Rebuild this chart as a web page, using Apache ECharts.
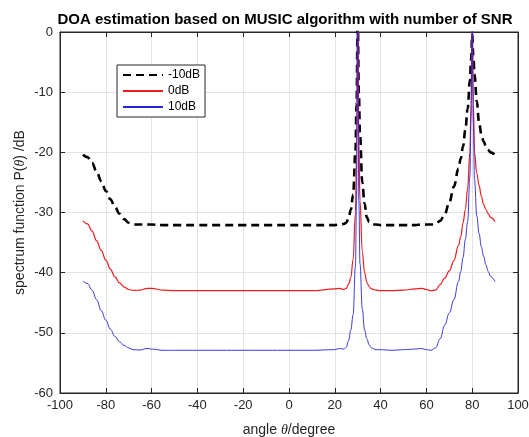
<!DOCTYPE html>
<html>
<head>
<meta charset="utf-8">
<script src="https://cdn.jsdelivr.net/npm/echarts@6/dist/echarts.min.js"></script>
<style>html,body{margin:0;padding:0;background:#fff}#c{width:529px;height:437px}</style>
</head>
<body>
<div id="c"></div>
<script>
var angles = [-90,-88,-86,-84,-82,-80,-78,-76,-74,-72,-70,-68,-65,-62,-60,-55,-50,-40,-30,-20,-10,0,10,20,22,24,25,26,27,28,29,29.5,30,30.5,31,32,33,34,35,36,38,40,45,50,55,58,60,62,64,66,68,70,72,74,75,76,77,78,79,79.5,80,80.5,81,82,83,84,85,86,87,88,90];
var snrM10 = [-20.4,-20.8,-21.8,-23.2,-24.8,-26.4,-27.8,-29.1,-30.2,-31.1,-31.7,-32,-32,-32,-32,-32.1,-32.1,-32.1,-32.1,-32.1,-32.1,-32.1,-32.1,-32.1,-32,-31.9,-31.7,-31,-29.5,-27,-20,-12,3,-10,-17,-25,-28.5,-30.8,-31.6,-32,-32,-32.1,-32.1,-32.1,-32.1,-32,-32,-32,-31.9,-31.4,-30.3,-28.3,-25.7,-22.7,-21,-19,-16.3,-12.8,-8,-4.5,-0.5,-4,-7,-11.5,-15,-17,-18.2,-19,-19.6,-20,-20.4];
var snr0 = [-31.4,-31.9,-33.1,-34.7,-36.3,-37.9,-39.4,-40.7,-41.7,-42.4,-42.8,-42.95,-42.9,-42.6,-42.6,-42.9,-43,-43,-43,-43,-43,-43,-43,-42.7,-42.6,-42.8,-42.6,-41.9,-40.8,-37.8,-30,-20,5,-18,-28,-36.5,-40,-41.6,-42.3,-42.7,-42.9,-43,-43,-42.9,-42.7,-42.6,-42.8,-43,-42.9,-42,-40.9,-39.7,-38,-35.5,-34,-31.7,-29.5,-26,-20,-12,3,-12,-20,-23.5,-25.5,-27.3,-28.7,-29.5,-30.2,-30.8,-31.5];
var snr10 = [-41.4,-41.8,-42.9,-44.5,-46.3,-47.9,-49.4,-50.6,-51.5,-52.1,-52.5,-52.8,-52.85,-52.6,-52.7,-52.9,-52.9,-52.9,-52.9,-52.9,-52.9,-52.9,-52.9,-52.8,-52.6,-52.7,-52.4,-51.3,-49.5,-47,-39,-28,5,-28,-38.5,-46,-49.5,-51,-52,-52.5,-52.8,-52.8,-52.9,-52.8,-52.7,-52.6,-52.8,-52.9,-52.5,-51,-48.7,-46.7,-44.5,-41.5,-39.8,-37.5,-34.5,-31.5,-24,-14,3,-15,-24.5,-30.5,-33.5,-35.7,-37.3,-38.7,-39.8,-40.6,-41.5];
var seriesNames = ['-10dB','0dB','10dB'];
var xTicks = {min:-100, max:100, step:20};
var yTicks = {min:-60, max:0, step:10};

function pairs(ys){ return angles.map(function(a,i){ return [a, ys[i]]; }); }
var font = 'Liberation Sans, Arial, sans-serif';
var dark = '#262626';
var clear = 'rgba(0,0,0,0)';
var chart = echarts.init(document.getElementById('c'));
chart.setOption({
  animation:false,
  backgroundColor:'#fff',
  title:{text:'DOA estimation based on MUSIC algorithm with number of SNR', left:280, top:7, textAlign:'center',
    textStyle:{fontFamily:font, fontSize:15, fontWeight:'bold', color:'#000'}},
  grid:{left:60, right:11, top:32, bottom:44, outerBoundsMode:'none', containLabel:false, show:true, borderColor:dark, borderWidth:1, backgroundColor:'transparent'},
  legend:{orient:'vertical', left:117, top:65, padding:[4,5,4,5], itemGap:4, itemWidth:40, itemHeight:14,
    backgroundColor:'#fff', borderColor:dark, borderWidth:1, borderRadius:0,
    textStyle:{fontFamily:font, fontSize:12, color:'#000'}, data:seriesNames},
  xAxis:[{type:'value', min:xTicks.min, max:xTicks.max, interval:xTicks.step,
    name:'angle {i|θ}/degree', nameLocation:'middle', nameGap:30,
    nameTextStyle:{fontFamily:font, fontSize:14, color:dark, rich:{i:{fontFamily:'Liberation Serif, serif', fontStyle:'italic', fontSize:14, color:dark}}},
    axisLine:{onZero:false, lineStyle:{color:dark}}, axisTick:{inside:true, length:5, lineStyle:{color:dark}},
    axisLabel:{fontFamily:font, fontSize:13, color:dark, margin:6},
    splitLine:{show:true, lineStyle:{color:'#e3e3e3', width:1}}},
   {type:'value', position:'top', min:xTicks.min, max:xTicks.max, interval:xTicks.step,
    axisLine:{show:true, onZero:false, lineStyle:{color:dark}}, axisTick:{inside:true, length:5, lineStyle:{color:dark}},
    axisLabel:{show:false}, splitLine:{show:false}}],
  yAxis:[{type:'value', min:yTicks.min, max:yTicks.max, interval:yTicks.step,
    name:'spectrum function P({i|θ}) /dB', nameLocation:'middle', nameGap:33, nameRotate:90, nameMoveOverlap:false,
    nameTextStyle:{fontFamily:font, fontSize:14, color:dark, rich:{i:{fontFamily:'Liberation Serif, serif', fontStyle:'italic', fontSize:14, color:dark}}},
    axisLine:{show:true, onZero:false, lineStyle:{color:dark}}, axisTick:{show:true, inside:true, length:5, lineStyle:{color:dark}},
    axisLabel:{fontFamily:font, fontSize:13, color:dark, margin:7},
    splitLine:{show:true, lineStyle:{color:'#e3e3e3', width:1}}},
   {type:'value', position:'right', min:yTicks.min, max:yTicks.max, interval:yTicks.step,
    axisLine:{show:true, onZero:false, lineStyle:{color:dark}}, axisTick:{show:true, inside:true, length:5, lineStyle:{color:dark}},
    axisLabel:{show:false}, splitLine:{show:false}}],
  series:[
    {name:seriesNames[0], type:'line', data:pairs(snrM10), showSymbol:false, symbol:'none', smooth:0.4, smoothMonotone:'x', clip:true,
      lineStyle:{color:'#000', width:2.6, type:[8,5]}, itemStyle:{color:clear, borderColor:clear}, z:3},
    {name:seriesNames[1], type:'line', data:pairs(snr0), showSymbol:false, symbol:'none', smooth:0.4, smoothMonotone:'x', clip:true,
      lineStyle:{color:'#ee1c1c', width:1.2}, itemStyle:{color:clear, borderColor:clear}, z:4},
    {name:seriesNames[2], type:'line', data:pairs(snr10), showSymbol:false, symbol:'none', smooth:0.4, smoothMonotone:'x', clip:true,
      lineStyle:{color:'#2626d9', width:0.9}, itemStyle:{color:clear, borderColor:clear}, z:5}
  ]
});
</script>
</body>
</html>
